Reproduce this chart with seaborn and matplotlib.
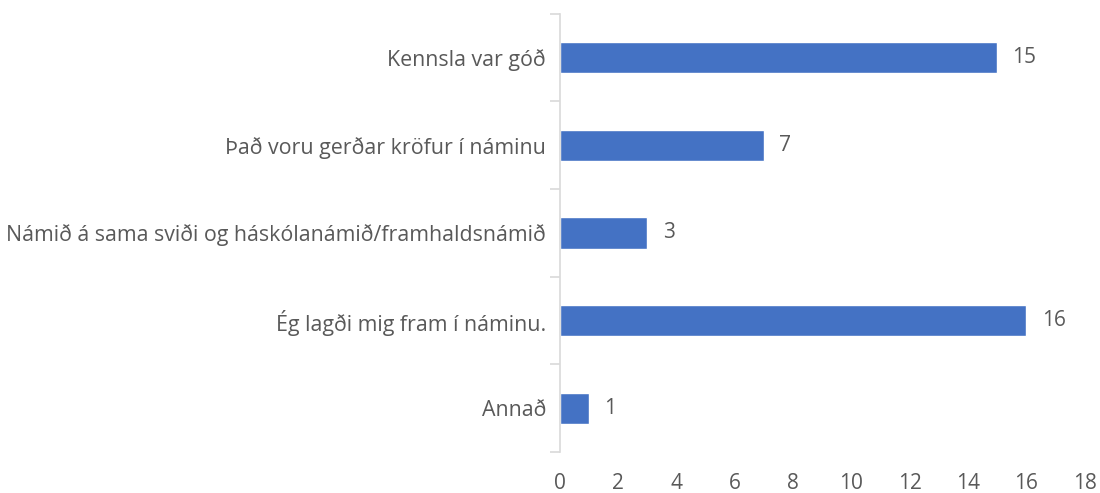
import matplotlib
matplotlib.use("Agg")
import matplotlib.pyplot as plt
import numpy as np
import seaborn as sns

categories = [
    "Kennsla var góð",
    "Það voru gerðar kröfur í náminu",
    "Námið á sama sviði og háskólanámið/framhaldsnámið",
    "Ég lagði mig fram í náminu.",
    "Annað",
]
values = [15, 7, 3, 16, 1]
x_ticks = list(range(0, 19, 2))

BAR_COLOR = "#4472C4"
TEXT_COLOR = "#595959"
AXIS_COLOR = "#D9D9D9"

sns.set_theme(style="white")
plt.rcParams["font.family"] = ["Open Sans", "DejaVu Sans"]

fig = plt.figure(figsize=(11, 4.93), dpi=100)
ax = fig.add_axes([0.509, 0.083, 0.477, 0.889])

sns.barplot(x=values, y=categories, orient="h", color=BAR_COLOR,
            saturation=1, width=0.355, ax=ax)

for c in ax.containers:
    ax.bar_label(c, padding=11, fontsize=15, color=TEXT_COLOR)

ax.set_xlim(0, 18)
ax.set_xticks(x_ticks)
ax.set_ylim(len(categories) - 0.5, -0.5)
ax.set_yticks(np.arange(-0.5, len(categories), 1.0), minor=True)

ax.tick_params(axis="x", length=0, labelsize=15, labelcolor=TEXT_COLOR, pad=15)
ax.tick_params(axis="y", which="major", left=False, length=0, labelsize=15.4,
               labelcolor=TEXT_COLOR, pad=10)
ax.tick_params(axis="y", which="minor", left=True, length=7, width=1.2,
               color=AXIS_COLOR)

for side in ["top", "right", "bottom"]:
    ax.spines[side].set_visible(False)
ax.spines["left"].set_color(AXIS_COLOR)
ax.spines["left"].set_linewidth(1.2)
ax.set_xlabel("")
ax.set_ylabel("")

plt.savefig("out.png", dpi=100)
plt.close()
